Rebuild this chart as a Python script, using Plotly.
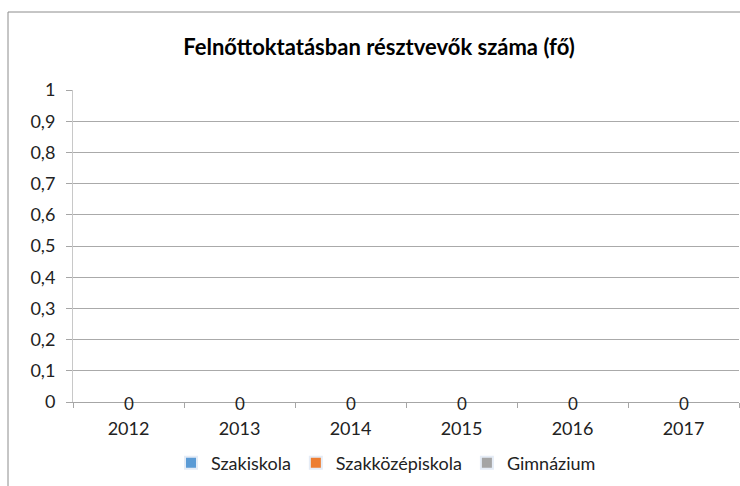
import plotly.graph_objects as go

years = ["2012", "2013", "2014", "2015", "2016", "2017"]
szakiskola = [0, 0, 0, 0, 0, 0]
szakkozepiskola = [0, 0, 0, 0, 0, 0]
gimnazium = [0, 0, 0, 0, 0, 0]
series = [
    ("Szakiskola", szakiskola, "#5B9BD5"),
    ("Szakközépiskola", szakkozepiskola, "#ED7D31"),
    ("Gimnázium", gimnazium, "#A5A5A5"),
]
title = "Felnőttoktatásban résztvevők száma (fő)"

FONT = "Lato, Open Sans, sans-serif"
fig = go.Figure()
for name, vals, col in series:
    fig.add_trace(go.Bar(x=years, y=vals, name=name, marker_color=col))

# data labels (stacked totals, all series overlap at the same spot);
# on a category axis, annotation x is the category's serial index
totals = [a + b + c for a, b, c in zip(szakiskola, szakkozepiskola, gimnazium)]
for i, v in enumerate(totals):
    fig.add_annotation(x=i, y=v, xref="x", yref="y", text=str(v), showarrow=False,
                       yshift=-1, font=dict(family=FONT, size=17, color="#222"))

W, H = 740, 486
L, R, T, B = 73, 1, 90, 84
pw, ph = W - L - R, H - T - B
fig.add_shape(type="rect", xref="paper", yref="paper",
              x0=(8 - L) / pw, x1=(W + 20 - L) / pw,
              y0=-(H + 20 - T - ph) / ph, y1=1 + (T - 12) / ph,
              line=dict(color="#8c8c8c", width=1), layer="below")

fig.update_layout(
    width=W, height=H, margin=dict(l=L, r=R, t=T, b=B, autoexpand=False),
    barmode="stack", separators=", ",
    paper_bgcolor="white", plot_bgcolor="white",
    title=dict(text=title, x=379 / W, xanchor="center", y=1 - 47 / H, yanchor="middle",
               font=dict(family=FONT, size=22, color="#000", weight="bold")),
    legend=dict(orientation="h", x=171 / W, xref="container", xanchor="left",
                y=1 - 463 / H, yref="container", yanchor="middle", traceorder="normal",
                font=dict(family=FONT, size=18, color="#222"),
                itemwidth=30, tracegroupgap=0, itemsizing="constant"),
    font=dict(family=FONT, color="#222"),
)
fig.update_xaxes(type="category", range=[-0.5, 5.5], autorange=False, showgrid=False,
                 showline=True, linecolor="#a6a6a6", tickangle=0,
                 ticks="outside", tickson="boundaries", ticklen=5, tickcolor="#a6a6a6",
                 ticklabelstandoff=10, tickfont=dict(size=18, family=FONT, color="#222"))
fig.update_yaxes(range=[0, 1], autorange=False, dtick=0.1, showgrid=True, gridcolor="#aaaaaa",
                 gridwidth=1, showline=True, linecolor="#c8c8c8", ticks="outside", ticklen=6,
                 tickcolor="#a6a6a6", ticklabelstandoff=7, zeroline=False,
                 tickfont=dict(size=18, family=FONT, color="#222"))

fig.write_html("out.html", config={"displayModeBar": False},
               post_script="document.body.style.margin='0';")
